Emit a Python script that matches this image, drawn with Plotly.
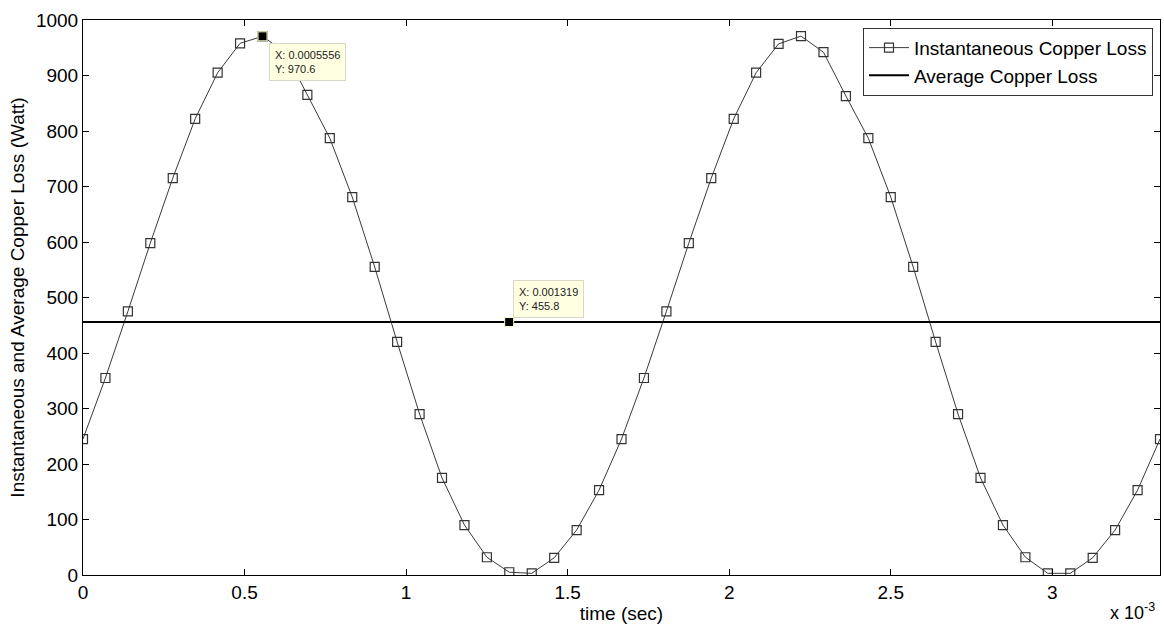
import plotly.graph_objects as go

# time in units of 1e-3 s (axis shows "x 10^-3")
time_ms = [0.0000, 0.0694, 0.1389, 0.2083, 0.2778, 0.3472, 0.4167, 0.4861, 0.5556, 0.6250,
           0.6944, 0.7639, 0.8333, 0.9028, 0.9722, 1.0417, 1.1111, 1.1806, 1.2500, 1.3194,
           1.3889, 1.4583, 1.5278, 1.5972, 1.6667, 1.7361, 1.8056, 1.8750, 1.9444, 2.0139,
           2.0833, 2.1528, 2.2222, 2.2917, 2.3611, 2.4306, 2.5000, 2.5694, 2.6389, 2.7083,
           2.7778, 2.8472, 2.9167, 2.9861, 3.0556, 3.1250, 3.1944, 3.2639, 3.3333]

inst_loss = [245, 355, 475, 598, 715, 822, 905, 958, 970.6, 942,
             865, 787, 681, 555, 420, 290, 175, 90, 32, 5,
             3, 31, 81, 153, 245, 355, 475, 598, 715, 822,
             905, 957, 971, 942, 863, 787, 681, 555, 420, 290,
             175, 90, 32, 3, 3, 31, 81, 153, 245]

avg_loss = 455.8
avg_x = [0.0, 3.3333]
avg_y = [avg_loss, avg_loss]

tip_inst_idx = 8
tip_avg_x = 1.319

x_ticks = [0, 0.5, 1, 1.5, 2, 2.5, 3]
x_ticktext = ["0", "0.5", "1", "1.5", "2", "2.5", "3"]
y_ticks = list(range(0, 1001, 100))

FONT = "Liberation Sans, Arial, sans-serif"

fig = go.Figure()
fig.add_trace(go.Scatter(
    x=time_ms, y=inst_loss, mode="lines+markers",
    name="Instantaneous Copper Loss",
    line=dict(color="#3a3a3a", width=1),
    marker=dict(symbol="square-open", size=9, color="#333333", line=dict(width=1.2)),
))
fig.add_trace(go.Scatter(
    x=avg_x, y=avg_y, mode="lines", name="Average Copper Loss",
    line=dict(color="black", width=2),
))
# data tip markers
fig.add_trace(go.Scatter(
    x=[time_ms[tip_inst_idx], tip_avg_x], y=[inst_loss[tip_inst_idx], avg_loss],
    mode="markers", showlegend=False, hoverinfo="skip",
    marker=dict(symbol="square", size=9, color="black", line=dict(color="#ffffcc", width=1)),
))

tip_style = dict(showarrow=False, bgcolor="#ffffe1", bordercolor="#d8d8c8", borderwidth=1,
                 font=dict(family=FONT, size=11, color="#222222"), align="left",
                 xanchor="left", yanchor="bottom", borderpad=5)
fig.add_annotation(x=time_ms[tip_inst_idx], y=inst_loss[tip_inst_idx], xshift=6, yshift=-45,
                   text="X: 0.0005556<br>Y: 970.6", **tip_style)
fig.add_annotation(x=tip_avg_x, y=avg_loss, xshift=4, yshift=4,
                   text="X: 0.001319<br>Y: 455.8", **tip_style)
fig.add_annotation(xref="paper", yref="paper", x=0.997, y=-0.066, xanchor="right", yanchor="middle",
                   showarrow=False, text="x 10<sup>-3</sup>",
                   font=dict(family=FONT, size=18, color="black"))

axis_common = dict(showline=True, linecolor="black", linewidth=1, mirror="allticks",
                   ticks="inside", ticklen=6, tickcolor="black", showgrid=False, zeroline=False,
                   automargin=False,
                   tickfont=dict(family=FONT, size=19, color="black"))
fig.update_xaxes(range=[0, 3.3333], tickvals=x_ticks, ticktext=x_ticktext,
                 title=dict(text="time (sec)", font=dict(family=FONT, size=19, color="black"), standoff=0),
                 **axis_common)
fig.update_yaxes(range=[0, 1000], tickvals=y_ticks,
                 title=dict(text="Instantaneous and Average Copper Loss (Watt)",
                            font=dict(family=FONT, size=19, color="black"), standoff=6),
                 **axis_common)

fig.update_layout(
    width=1164, height=628,
    margin=dict(l=83, r=4, t=20, b=53),
    paper_bgcolor="white", plot_bgcolor="white",
    font=dict(family=FONT, size=19, color="black"),
    legend=dict(x=0.9935, y=0.986, xanchor="right", yanchor="top",
                bgcolor="white", bordercolor="#333333", borderwidth=1,
                font=dict(family=FONT, size=19, color="black"),
                tracegroupgap=0, itemwidth=40),
    showlegend=True,
)

fig.write_html("out.html", config={"displayModeBar": False},
               post_script="document.body.style.margin='0px';")
